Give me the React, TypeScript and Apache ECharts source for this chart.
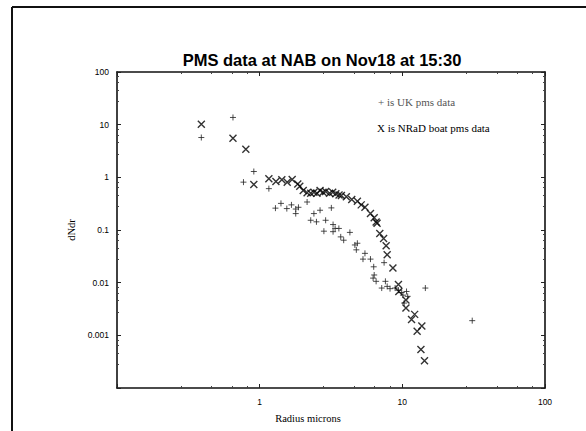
import React, { useEffect, useRef } from "react";
import * as echarts from "echarts";

// UK pms data (radius microns, dN/dr)
const ukRadius = [0.39, 0.65, 0.77, 0.91, 1.16, 1.29, 1.41, 1.55, 1.67, 1.79, 1.87, 1.79, 2.15, 2.4, 2.65, 3.18, 2.28, 2.5, 2.9, 2.82, 3.27, 3.38, 3.59, 3.27, 3.7, 3.88, 4.29, 4.65, 4.84, 4.76, 5.47, 5.3, 5.98, 6.3, 6.35, 6.24, 6.55, 7.17, 7.61, 7.83, 8.2, 8.9, 9.4, 9.9, 10.1, 10.7, 10.9, 10.3, 7.45, 14.5, 30.9];
const ukDndr = [5.7, 13.7, 0.81, 1.29, 0.61, 0.26, 0.32, 0.255, 0.3, 0.25, 0.27, 0.205, 0.34, 0.205, 0.237, 0.263, 0.153, 0.143, 0.153, 0.095, 0.127, 0.107, 0.107, 0.093, 0.074, 0.064, 0.09, 0.052, 0.056, 0.042, 0.036, 0.028, 0.028, 0.02, 0.014, 0.0122, 0.0106, 0.0079, 0.0106, 0.0085, 0.0077, 0.0079, 0.0072, 0.0065, 0.0058, 0.0068, 0.0055, 0.0041, 0.024, 0.0079, 0.0019];

// NRaD boat pms data
const nradRadius = [0.39, 0.65, 0.8, 0.91, 1.16, 1.3, 1.43, 1.56, 1.69, 1.85, 1.91, 2.02, 2.15, 2.28, 2.4, 2.52, 2.65, 2.78, 2.9, 3.09, 3.25, 3.42, 3.6, 3.74, 4.05, 4.42, 4.84, 5.15, 5.47, 5.98, 6.35, 6.55, 6.65, 6.95, 7.39, 7.7, 7.83, 8.59, 9.39, 9.45, 10.6, 10.6, 12.2, 11.6, 13.7, 12.7, 13.5, 14.3];
const nradDndr = [10.2, 5.5, 3.4, 0.73, 0.94, 0.83, 0.9, 0.81, 0.91, 0.75, 0.68, 0.56, 0.51, 0.5, 0.52, 0.5, 0.56, 0.52, 0.54, 0.5, 0.52, 0.49, 0.46, 0.45, 0.43, 0.38, 0.35, 0.3, 0.27, 0.205, 0.17, 0.142, 0.135, 0.086, 0.069, 0.05, 0.034, 0.019, 0.0092, 0.0068, 0.0047, 0.0033, 0.0025, 0.002, 0.0015, 0.0012, 0.00054, 0.00033];

const titleText = "PMS data at NAB on Nov18 at 15:30";
const xName = "Radius microns";
const yName = "dNdr";
const legendUK = "+ is UK pms data";
const legendNRaD = "X is NRaD boat pms data";

const serif = "Liberation Serif";
const sans = "Liberation Sans";

const fmt = (v: number) => String(Number(v.toPrecision(3)));

export default function App() {
  const ref = useRef<HTMLDivElement>(null);
  useEffect(() => {
    if (!ref.current) return;
    const chart = echarts.init(ref.current, null, { renderer: "svg" });
    const axisLine = { show: true, lineStyle: { color: "#111", width: 1.6 } };
    const baseX = {
      type: "log" as const,
      logBase: 10,
      min: 0.1,
      max: 100,
      axisLine,
      axisTick: { show: true, inside: true, length: 4, lineStyle: { color: "#222" } },
      minorTick: { show: true, splitNumber: 5, length: 2, lineStyle: { color: "#444" } },
      splitLine: { show: false },
      minorSplitLine: { show: false },
    };
    const baseY = {
      type: "log" as const,
      logBase: 10,
      min: 0.0001,
      max: 100,
      axisLine,
      axisTick: { show: true, inside: true, length: 4, lineStyle: { color: "#222" } },
      minorTick: { show: true, splitNumber: 5, length: 2, lineStyle: { color: "#444" } },
      splitLine: { show: false },
      minorSplitLine: { show: false },
    };
    chart.setOption({
      animation: false,
      backgroundColor: "#fff",
      title: {
        text: titleText,
        left: 317,
        textAlign: "center",
        top: 46,
        textStyle: { fontFamily: sans, fontWeight: "bold", fontSize: 16.5, color: "#000" },
      },
      grid: { left: 117, right: 41, top: 72, bottom: 43 },
      xAxis: [
        {
          ...baseX,
          position: "bottom",
          axisLabel: {
            showMinLabel: false,
            fontFamily: sans,
            fontSize: 8.5,
            color: "#000",
            margin: 9,
            formatter: fmt,
          },
        },
        { ...baseX, position: "top", axisLabel: { show: false } },
      ],
      yAxis: [
        {
          ...baseY,
          position: "left",
          name: yName,
          nameLocation: "middle",
          nameRotate: 90,
          nameGap: 31,
          nameTextStyle: { fontFamily: serif, fontSize: 10.5, color: "#000" },
          axisLabel: {
            showMinLabel: false,
            fontFamily: sans,
            fontSize: 8.5,
            color: "#000",
            margin: 8,
            formatter: fmt,
          },
        },
        { ...baseY, position: "right", axisLabel: { show: false } },
      ],
      graphic: [
        { type: "line", shape: { x1: 12, y1: 7, x2: 586, y2: 7 }, style: { stroke: "#111", lineWidth: 2 } },
        { type: "line", shape: { x1: 12, y1: 7, x2: 12, y2: 431 }, style: { stroke: "#111", lineWidth: 2 } },
        {
          type: "text",
          x: 308,
          y: 418,
          style: { text: xName, fontFamily: serif, fontSize: 10.5, fill: "#000", textAlign: "center", textVerticalAlign: "middle" },
        },
        {
          type: "text",
          x: 378,
          y: 102,
          style: { text: legendUK, fontFamily: serif, fontSize: 11, fill: "#555", textVerticalAlign: "middle" },
        },
        {
          type: "text",
          x: 377,
          y: 128,
          style: { text: legendNRaD, fontFamily: serif, fontSize: 11, fill: "#000", textVerticalAlign: "middle" },
        },
      ],
      series: [
        {
          name: "UK",
          type: "scatter",
          xAxisIndex: 0,
          yAxisIndex: 0,
          data: ukRadius.map((r, i) => [r, ukDndr[i]]),
          symbol: "path://M5,0L5,10M0,5L10,5",
          symbolSize: 6,
          itemStyle: { color: "transparent", borderColor: "#222", borderWidth: 1 },
        },
        {
          name: "NRaD",
          type: "scatter",
          xAxisIndex: 0,
          yAxisIndex: 0,
          data: nradRadius.map((r, i) => [r, nradDndr[i]]),
          symbol: "path://M0,0L10,10M10,0L0,10",
          symbolSize: 7,
          itemStyle: { color: "transparent", borderColor: "#000", borderWidth: 1.4 },
        },
      ],
    });
    return () => chart.dispose();
  }, []);
  return <div ref={ref} style={{ width: 586, height: 431, position: "absolute", left: 0, top: 0 }} />;
}
